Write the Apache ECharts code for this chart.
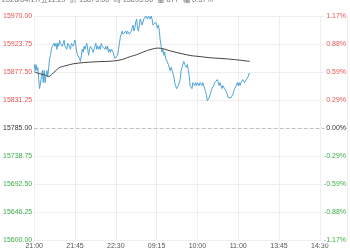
<!DOCTYPE html>
<html><head><meta charset="utf-8">
<script src="https://cdn.jsdelivr.net/npm/echarts@6/dist/echarts.min.js"></script>
<style>html,body{margin:0;padding:0;background:#fff}#c{width:350px;height:250px}</style>
</head><body><div id="c"></div>
<script>
const preClose = 15785;
const headerText = '2026/04/17/五11:29  价 15875.00  均 15895.00  量 877  幅 0.57%';
const tickLabels = ['21:00','21:45','22:30','09:15','10:00','11:00','13:45','14:30'];
// one price per minute, from 21:00 on
const prices = [
15890,15880,15890,15880,15885,15865,15850,15850,15870,15880,15860,15880,15860,15870,15880,15870,15885,15900,15905,15915,
15920,15920,15925,15920,15925,15915,15925,15920,15930,15925,15925,15920,15925,15930,15920,15920,15915,15925,15925,15920,
15915,15925,15925,15920,15925,15930,15920,15910,15905,15905,15900,15895,15905,15915,15910,15920,15915,15915,15925,15915,
15905,15915,15920,15920,15915,15910,15915,15920,15925,15915,15920,15915,15920,15915,15925,15920,15920,15920,15915,15920,
15915,15920,15910,15915,15910,15915,15915,15910,15905,15900,15900,15900,15905,15915,15925,15935,15940,15945,15940,15940,
15940,15945,15940,15945,15945,15940,15940,15945,15945,15955,15945,15950,15960,15965,15950,15945,15955,15965,15965,15955,
15960,15965,15965,15970,15970,15965,15970,15970,15965,15970,15965,15955,15955,15955,15960,15955,15950,15955,15945,15930,
15920,15910,15915,15905,15910,15900,15900,15900,15890,15890,15880,15885,15880,15875,15870,15860,15855,15850,15850,15855,
15855,15865,15880,15885,15890,15895,15890,15890,15885,15890,15880,15870,15855,15855,15850,15860,15860,15855,15860,15855,
15860,15860,15855,15860,15860,15855,15860,15860,15850,15845,15840,15830,15830,15835,15840,15840,15850,15850,15855,15860,
15860,15860,15865,15860,15855,15860,15855,15850,15855,15855,15850,15850,15845,15840,15835,15835,15835,15835,15835,15840,
15845,15850,15850,15855,15860,15855,15860,15855,15860,15860,15865,15865,15860,15860,15865,15865,15870,15875,15875
];
const avgMinutes = [0,5,11,16,19,24,28,35,43,54,70,86,97,106,113,121,129,136,142,151,162,173,183,194,205,221,238];
const avgValues = [15878,15875,15873,15870,15873,15880,15885,15888,15891,15893,15894.5,15895.5,15898,15903,15906,15911,15915,15917,15916,15912,15908,15904.5,15903,15901,15900,15898,15895];

const red = '#e85555', green = '#3dae4a', neutral = '#333';
function colorOf(v){ v = Number(v); return v > 0.001 ? red : (v < -0.001 ? green : neutral); }

const chart = echarts.init(document.getElementById('c'), null, {renderer:'canvas'});
chart.setOption({
  animation: false,
  textStyle: {fontFamily: 'Liberation Sans, Arial, sans-serif'},
  graphic: [{type:'text', left: 2, top: -4, style:{text: headerText, fontSize: 7.3, fill:'#777', fontFamily:'Liberation Sans, "Noto Sans CJK SC", sans-serif'}}],
  grid: {left: 31, right: 0, top: 16, bottom: 7},
  xAxis: {
    type:'value', min:0, max:345, interval:45,
    axisLine:{show:false}, axisTick:{show:false},
    splitLine:{show:true, lineStyle:{color:'#eeeeee', width:1}},
    axisLabel:{fontSize:7, color:'#555', margin:3,
      formatter: v => (v % 45 === 0 && tickLabels[v/45]) ? tickLabels[v/45] : ''}
  },
  yAxis: [{
    type:'value', min:-185, max:185, interval:46.25, position:'left',
    axisLine:{show:false}, axisTick:{show:false},
    splitLine:{show:true, lineStyle:{color:'#eeeeee', width:1}},
    axisLabel:{fontSize:7, margin:2, color: colorOf,
      formatter: v => (preClose + v).toFixed(2)}
  },{
    type:'value', min:-185, max:185, interval:46.25, position:'right', z: 5,
    axisLine:{show:false}, axisTick:{show:false}, splitLine:{show:false},
    axisLabel:{fontSize:7, margin:1, inside:true, color: colorOf,
      backgroundColor:'#fff', padding:[0,0,0,2],
      formatter: v => (v / preClose * 100).toFixed(2) + '%'}
  }],
  series: [{
    type:'line', name:'价', showSymbol:false, symbol:'none',
    data: prices.map((p,i) => [i, p - preClose]),
    lineStyle:{color:'#4fa3d6', width:1}, itemStyle:{color:'#4fa3d6'},
    markLine:{silent:true, symbol:'none', label:{show:false},
      lineStyle:{color:'#bbbbbb', type:[3,3], width:1}, data:[{yAxis:0}]}
  },{
    type:'line', name:'均', showSymbol:false, symbol:'none', smooth:0.3,
    data: avgMinutes.map((m,i) => [m, avgValues[i] - preClose]),
    lineStyle:{color:'#444', width:1}, itemStyle:{color:'#444'}
  }]
});
</script>
</body></html>
